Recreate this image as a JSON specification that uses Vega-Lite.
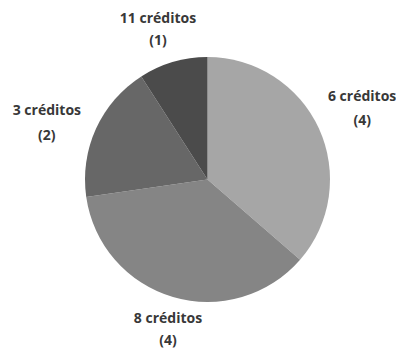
{
  "$schema": "https://vega.github.io/schema/vega-lite/v6.json",
  "autosize": {"type": "none"},
  "width": 380,
  "height": 340,
  "padding": {"left": 17.5, "top": 9.5, "right": 0, "bottom": 0},
  "background": "white",
  "data": {
    "values": [
      {"categoria": "6 créditos", "n": 4, "ordem": 1, "rotulo": "6 créditos\n(4)"},
      {"categoria": "8 créditos", "n": 4, "ordem": 2, "rotulo": "8 créditos\n(4)"},
      {"categoria": "3 créditos", "n": 2, "ordem": 3, "rotulo": "3 créditos\n(2)"},
      {"categoria": "11 créditos", "n": 1, "ordem": 4, "rotulo": "11 créditos\n(1)"}
    ]
  },
  "encoding": {
    "theta": {"field": "n", "type": "quantitative", "stack": true},
    "order": {"field": "ordem", "type": "quantitative"}
  },
  "layer": [
    {
      "mark": {"type": "arc", "outerRadius": 122.5},
      "encoding": {
        "color": {
          "field": "categoria",
          "type": "nominal",
          "scale": {
            "domain": ["6 créditos", "8 créditos", "3 créditos", "11 créditos"],
            "range": ["#a6a6a6", "#858585", "#676767", "#4b4b4b"]
          },
          "legend": null
        }
      }
    },
    {
      "mark": {"type": "text", "radius": 170, "dy": -12, "font": "Open Sans", "fontWeight": "bold", "fontSize": 14, "lineBreak": "\n", "lineHeight": 24, "color": "#383838", "align": "center", "baseline": "middle"},
      "encoding": {"text": {"condition": {"test": "datum.ordem == 1", "field": "rotulo"}, "value": ""}}
    },
    {
      "mark": {"type": "text", "radius": 158, "dy": -12, "dx": 5, "font": "Open Sans", "fontWeight": "bold", "fontSize": 14, "lineBreak": "\n", "lineHeight": 22, "color": "#383838", "align": "center", "baseline": "middle"},
      "encoding": {"text": {"condition": {"test": "datum.ordem == 2", "field": "rotulo"}, "value": ""}}
    },
    {
      "mark": {"type": "text", "radius": 170, "dy": 2, "dx": -6, "font": "Open Sans", "fontWeight": "bold", "fontSize": 14, "lineBreak": "\n", "lineHeight": 25, "color": "#383838", "align": "center", "baseline": "middle"},
      "encoding": {"text": {"condition": {"test": "datum.ordem == 3", "field": "rotulo"}, "value": ""}}
    },
    {
      "mark": {"type": "text", "radius": 158, "dy": -9, "dx": -5, "font": "Open Sans", "fontWeight": "bold", "fontSize": 14, "lineBreak": "\n", "lineHeight": 22, "color": "#383838", "align": "center", "baseline": "middle"},
      "encoding": {"text": {"condition": {"test": "datum.ordem == 4", "field": "rotulo"}, "value": ""}}
    }
  ]
}
